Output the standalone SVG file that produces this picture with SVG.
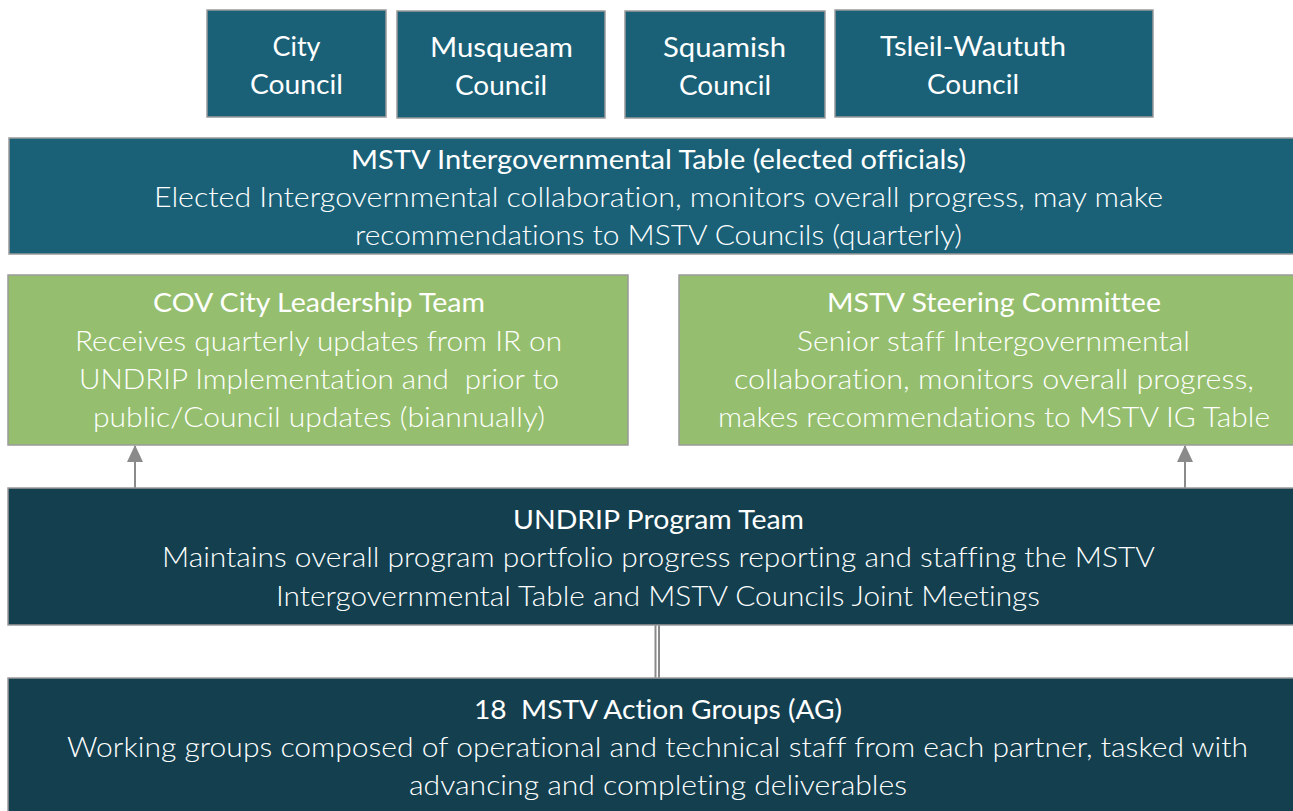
<svg xmlns="http://www.w3.org/2000/svg" width="1293" height="811" viewBox="0 0 1293 811">
  <defs>
    <style>
      .teal { fill: #1a6178; stroke: #9a9a9a; stroke-width: 1.5; }
      .green { fill: #95bf6e; stroke: #9a9a9a; stroke-width: 1.5; }
      .dark { fill: #143f4f; stroke: #9a9a9a; stroke-width: 1.5; }
      text { font-family: Lato, "Liberation Sans", sans-serif; fill: #ffffff; text-anchor: middle; font-variant-ligatures: none; font-feature-settings: "liga" 0, "dlig" 0; }
      .t { font-size: 26.5px; font-weight: 400; }
      .b { font-size: 26.5px; font-weight: 300; }
      .c { font-size: 27px; font-weight: 400; }
      .link { stroke: #8a8a8a; stroke-width: 2; fill: none; }
    </style>
    <marker id="arrow" viewBox="0 0 17 16" refX="16" refY="8" markerWidth="17" markerHeight="16" markerUnits="userSpaceOnUse" orient="auto">
      <path d="M0,0 L17,8 L0,16 Z" fill="#8a8a8a"/>
    </marker>
  </defs>
  <rect width="1293" height="811" fill="#ffffff"/>

  <!-- connectors -->
  <g id="connectors">
    <line class="link" x1="135" y1="488" x2="135" y2="446" marker-end="url(#arrow)"/>
    <line class="link" x1="1185" y1="488" x2="1185" y2="446" marker-end="url(#arrow)"/>
    <line class="link" x1="655.5" y1="625" x2="655.5" y2="678"/>
    <line class="link" x1="659" y1="625" x2="659" y2="678"/>
  </g>

  <!-- councils -->
  <g id="city-council">
    <rect class="teal" x="207" y="10" width="179" height="107"/>
    <text class="c" x="296.5" y="56" textLength="48" lengthAdjust="spacingAndGlyphs">City</text>
    <text class="c" x="296.5" y="94" textLength="93" lengthAdjust="spacingAndGlyphs">Council</text>
  </g>
  <g id="musqueam-council">
    <rect class="teal" x="397" y="11" width="208" height="107"/>
    <text class="c" x="501.5" y="57" textLength="143" lengthAdjust="spacingAndGlyphs">Musqueam</text>
    <text class="c" x="501" y="95" textLength="92" lengthAdjust="spacingAndGlyphs">Council</text>
  </g>
  <g id="squamish-council">
    <rect class="teal" x="625" y="11" width="200" height="107"/>
    <text class="c" x="724.5" y="57" textLength="123" lengthAdjust="spacingAndGlyphs">Squamish</text>
    <text class="c" x="725" y="95" textLength="92" lengthAdjust="spacingAndGlyphs">Council</text>
  </g>
  <g id="tsleil-waututh-council">
    <rect class="teal" x="835" y="10" width="318" height="107"/>
    <text class="c" x="973" y="56" textLength="186" lengthAdjust="spacingAndGlyphs">Tsleil-Waututh</text>
    <text class="c" x="973" y="94" textLength="92" lengthAdjust="spacingAndGlyphs">Council</text>
  </g>

  <!-- intergovernmental table -->
  <g id="ig-table">
    <rect class="teal" x="9" y="138" width="1290" height="116"/>
    <text class="t" x="658.5" y="169" textLength="615" lengthAdjust="spacingAndGlyphs">MSTV Intergovernmental Table (elected officials)</text>
    <text class="b" x="658.5" y="207" textLength="1009" lengthAdjust="spacingAndGlyphs">Elected Intergovernmental collaboration, monitors overall progress, may make</text>
    <text class="b" x="658.5" y="245" textLength="607" lengthAdjust="spacingAndGlyphs">recommendations to MSTV Councils (quarterly)</text>
  </g>

  <!-- leadership / steering -->
  <g id="cov-leadership">
    <rect class="green" x="8" y="275" width="620" height="170"/>
    <text class="t" x="319" y="312" textLength="332" lengthAdjust="spacingAndGlyphs">COV City Leadership Team</text>
    <text class="b" x="318.5" y="351" textLength="487" lengthAdjust="spacingAndGlyphs">Receives quarterly updates from IR on</text>
    <text class="b" x="319" y="389" textLength="480" lengthAdjust="spacingAndGlyphs" xml:space="preserve">UNDRIP Implementation and  prior to</text>
    <text class="b" x="319" y="427" textLength="452" lengthAdjust="spacingAndGlyphs">public/Council updates (biannually)</text>
  </g>
  <g id="steering-committee">
    <rect class="green" x="679" y="275" width="620" height="170"/>
    <text class="t" x="994" y="312" textLength="334" lengthAdjust="spacingAndGlyphs">MSTV Steering Committee</text>
    <text class="b" x="993.5" y="351" textLength="393" lengthAdjust="spacingAndGlyphs">Senior staff Intergovernmental</text>
    <text class="b" x="994" y="389" textLength="520" lengthAdjust="spacingAndGlyphs">collaboration, monitors overall progress,</text>
    <text class="b" x="994" y="427" textLength="552" lengthAdjust="spacingAndGlyphs">makes recommendations to MSTV IG Table</text>
  </g>

  <!-- program team -->
  <g id="program-team">
    <rect class="dark" x="8" y="488" width="1291" height="137"/>
    <text class="t" x="658.5" y="529" textLength="291" lengthAdjust="spacingAndGlyphs">UNDRIP Program Team</text>
    <text class="b" x="658.5" y="567" textLength="993" lengthAdjust="spacingAndGlyphs">Maintains overall program portfolio progress reporting and staffing the MSTV</text>
    <text class="b" x="658" y="606" textLength="764" lengthAdjust="spacingAndGlyphs">Intergovernmental Table and MSTV Councils Joint Meetings</text>
  </g>

  <!-- action groups -->
  <g id="action-groups">
    <rect class="dark" x="8" y="678" width="1291" height="140"/>
    <text class="t" x="658" y="719" textLength="368" lengthAdjust="spacingAndGlyphs" xml:space="preserve">18  MSTV Action Groups (AG)</text>
    <text class="b" x="657.5" y="757" textLength="1181" lengthAdjust="spacingAndGlyphs">Working groups composed of operational and technical staff from each partner, tasked with</text>
    <text class="b" x="658" y="795" textLength="498" lengthAdjust="spacingAndGlyphs">advancing and completing deliverables</text>
  </g>
</svg>
